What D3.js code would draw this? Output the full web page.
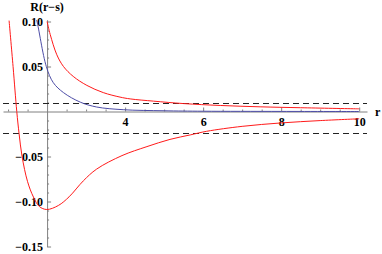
<!DOCTYPE html>
<html>
<head>
<meta charset="utf-8">
<script src="https://cdn.jsdelivr.net/npm/d3@7"></script>
<style>
  body { margin: 0; background: #fff; }
</style>
</head>
<body>
<div id="chart"></div>
<script>
// values
const lowerR = [1.026, 1.128, 1.223, 1.282, 1.359, 1.50, 1.65, 1.80, 1.992, 2.29, 2.564, 2.93, 3.27, 3.92, 4.56, 5.15, 5.67, 6.09, 7.0, 8.0, 9.0, 10.0];
const lowerV = [0.101, 0.05, 0, -0.0245, -0.0500, -0.078, -0.095, -0.1055, -0.1089, -0.1044, -0.0948, -0.077, -0.064, -0.049, -0.039, -0.031, -0.026, -0.022, -0.0165, -0.0127, -0.0101, -0.0081];

const upperR = [2.0, 2.08, 2.25, 2.42, 2.67, 3.02, 3.44, 3.87, 4.13, 4.73, 5.5, 6.44, 7.46, 8.5, 9.94, 10.0];
const upperV = [0.10, 0.0856, 0.063, 0.05, 0.039, 0.029, 0.021, 0.016, 0.014, 0.0115, 0.0088, 0.0067, 0.0052, 0.0042, 0.0030, 0.0030];

const blueR = [1.72, 1.74, 1.98, 2.16, 2.42, 2.85, 3.27, 3.95, 5.0, 6.0, 8.0, 10.0];
const blueV = [0.102, 0.10, 0.05, 0.032, 0.021, 0.0104, 0.005, 0.002, 0.0008, 0.0003, 0.0001, 0];

const dashLevels = [0.0097, -0.0244];

const xMajor = [4, 6, 8, 10];
const xMinor = [1, 1.5, 2.5, 3, 3.5, 4.5, 5, 5.5, 6.5, 7, 7.5, 8.5, 9, 9.5];
const yMajor = [-0.15, -0.10, -0.05, 0.05, 0.10];
const yMinor = d3.range(-15, 11).map(d => d / 100).filter(d => Math.abs(d * 100 % 5) > 0.01);

const W = 382, H = 254;
const FONT = "bold 12px 'Liberation Serif', 'Times New Roman', serif";
const x = d3.scaleLinear().domain([0.87, 10.2]).range([3, 367]);
const y = d3.scaleLinear().domain([-0.15, 0.102]).range([246.5, 19.7]);

const svg = d3.select("#chart").append("svg")
  .attr("width", W).attr("height", H);

svg.append("defs").append("clipPath").attr("id", "clip")
  .append("rect")
  .attr("x", x.range()[0]).attr("y", y.range()[1])
  .attr("width", x.range()[1] - x.range()[0])
  .attr("height", y.range()[0] - y.range()[1]);

const fmt = d => (d < 0 ? "\u2212" : "") + Math.abs(d).toFixed(2);

// x axis at y = 0, ticks pointing up
const gx = svg.append("g").attr("transform", "translate(0," + y(0) + ")");
gx.call(d3.axisBottom(x).tickValues(xMinor).tickSize(-2).tickSizeOuter(0).tickFormat(""));
const gx2 = svg.append("g").attr("transform", "translate(0," + y(0) + ")");
gx2.call(d3.axisBottom(x).tickValues(xMajor).tickSize(-4).tickSizeOuter(0).tickPadding(6).tickFormat(d3.format("d")));
gx2.select(".domain").remove();

// y axis at r = 2, ticks pointing right
const gy = svg.append("g").attr("transform", "translate(" + x(2) + ",0)");
gy.call(d3.axisLeft(y).tickValues(yMinor).tickSize(-2).tickSizeOuter(0).tickFormat(""));
const gy2 = svg.append("g").attr("transform", "translate(" + x(2) + ",0)");
gy2.call(d3.axisLeft(y).tickValues(yMajor).tickSize(-4).tickSizeOuter(0).tickPadding(4).tickFormat(fmt));
gy2.select(".domain").remove();

svg.selectAll(".domain, .tick line").attr("stroke", "#808080");
svg.selectAll(".tick text").attr("fill", "#000").style("font", FONT);

// dashed reference levels
svg.selectAll(".level").data(dashLevels).enter().append("line")
  .attr("class", "level")
  .attr("x1", x.range()[0]).attr("x2", x.range()[1])
  .attr("y1", d => Math.round(y(d)) + 0.5).attr("y2", d => Math.round(y(d)) + 0.5)
  .attr("stroke", "#222").attr("stroke-width", 1).attr("stroke-dasharray", "6,4");

const line = d3.line().x(d => x(d[0])).y(d => y(d[1])).curve(d3.curveCatmullRom.alpha(0.5));
const series = [
  {r: blueR, v: blueV, color: "#4c4ca6"},
  {r: upperR, v: upperV, color: "#ff1a1a"},
  {r: lowerR, v: lowerV, color: "#ff1a1a"}
];
svg.append("g").attr("clip-path", "url(#clip)")
  .selectAll("path").data(series).enter().append("path")
  .attr("d", s => line(s.r.map((r, i) => [r, s.v[i]])))
  .attr("fill", "none")
  .attr("stroke", s => s.color)
  .attr("stroke-width", 1);

// axis titles
svg.append("text").attr("x", x(2)).attr("y", 10.5).attr("text-anchor", "middle").style("font", FONT).text("R(r\u2212s)");
svg.append("text").attr("x", 375).attr("y", 116).style("font", FONT).text("r");
</script>
</body>
</html>
